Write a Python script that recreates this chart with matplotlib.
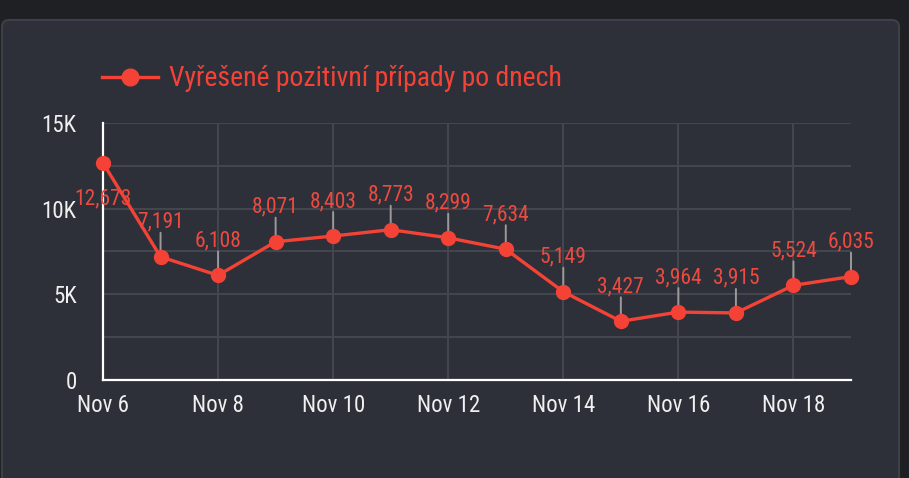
import matplotlib
matplotlib.use("Agg")
import matplotlib.pyplot as plt
import matplotlib.dates as mdates
from matplotlib import font_manager
from matplotlib.patches import FancyBboxPatch
from matplotlib.transforms import IdentityTransform
import pandas as pd

dates = ["2020-11-06", "2020-11-07", "2020-11-08", "2020-11-09", "2020-11-10",
         "2020-11-11", "2020-11-12", "2020-11-13", "2020-11-14", "2020-11-15",
         "2020-11-16", "2020-11-17", "2020-11-18", "2020-11-19"]
values = [12673, 7191, 6108, 8071, 8403, 8773, 8299, 7634, 5149, 3427,
          3964, 3915, 5524, 6035]
series_name = "Vyřešené pozitivní případy po dnech"
y_ticks = [0, 5000, 10000, 15000]
y_tick_labels = ["0", "5K", "10K", "15K"]

names = {f.name for f in font_manager.fontManager.ttflist}
family = "Roboto Condensed" if "Roboto Condensed" in names else "Roboto"
plt.rcParams["font.family"] = [family, "DejaVu Sans"]

RED = "#f44336"
LABEL_RED = "#ee4a3f"
FIG_BG = "#1f2024"
PANEL_BG = "#2d3038"
PANEL_EDGE = "#3d4047"
GRID = "#43464d"

W, H = 909, 478
fig = plt.figure(figsize=(W / 100, H / 100), dpi=100, facecolor=FIG_BG)
panel = FancyBboxPatch((2, -10), 897, H - 20 + 10,
                       boxstyle="round,pad=0,rounding_size=7",
                       transform=IdentityTransform(), facecolor=PANEL_BG,
                       edgecolor=PANEL_EDGE, linewidth=1.5, zorder=-10)
fig.patches.append(panel)

ax = fig.add_axes([103 / W, 1 - 380 / H, (851 - 103) / W, (380 - 123) / H])
ax.set_facecolor("none")
ax.set_zorder(1)

x = pd.to_datetime(dates)
ax.plot(x, values, color=RED, linewidth=2.4, marker="o", markersize=10,
        zorder=5, clip_on=False, label=series_name)

ax.set_ylim(0, 15000)
ax.set_xlim(x[0], x[-1])
ax.set_yticks(y_ticks)
ax.set_yticklabels(y_tick_labels)
ax.set_yticks([2500, 7500, 12500], minor=True)
ax.xaxis.set_major_locator(mdates.DayLocator(bymonthday=range(6, 31, 2)))
ax.xaxis.set_major_formatter(mdates.DateFormatter("%b %-d"))

ax.grid(True, which="both", axis="y", color=GRID, linewidth=1.5)
ax.grid(True, which="major", axis="x", color=GRID, linewidth=1.5)
ax.set_axisbelow(True)
for s in ["top", "right"]:
    ax.spines[s].set_visible(False)
for s in ["left", "bottom"]:
    ax.spines[s].set_color("white")
    ax.spines[s].set_linewidth(1.6)
    ax.spines[s].set_zorder(3)
ax.tick_params(axis="both", which="both", length=0, colors="#f0f0f0", labelsize=16.5)
ax.tick_params(axis="y", pad=19)
ax.tick_params(axis="x", pad=10)

px = 0.72
for i, (xi, v) in enumerate(zip(x, values)):
    label = f"{v:,}"
    if i == 0:
        ax.annotate("", xy=(xi, v), xytext=(0, -23 * px), textcoords="offset points",
                    arrowprops=dict(arrowstyle="-", color="#9a9a9a", lw=1.4,
                                    shrinkA=0, shrinkB=0), zorder=2)
        ax.annotate(label, xy=(xi, v), xytext=(0, -26 * px), textcoords="offset points",
                    ha="center", va="top", color=LABEL_RED, fontsize=15.5, zorder=4)
    else:
        ax.annotate("", xy=(xi, v), xytext=(0, 24 * px), textcoords="offset points",
                    arrowprops=dict(arrowstyle="-", color="#9a9a9a", lw=1.4,
                                    shrinkA=0, shrinkB=0), zorder=2)
        ax.annotate(label, xy=(xi, v), xytext=(0, 24 * px), textcoords="offset points",
                    ha="center", va="bottom", color=LABEL_RED, fontsize=15.5, zorder=4)

leg = fig.legend(loc="center left", bbox_to_anchor=(102 / W, 1 - 79 / H),
                 frameon=False, fontsize=20, handlelength=2.0, handletextpad=0.4,
                 borderpad=0, borderaxespad=0, markerscale=1.2)
for t in leg.get_texts():
    t.set_color(RED)

fig.savefig("out.png", dpi=100, facecolor=FIG_BG)
